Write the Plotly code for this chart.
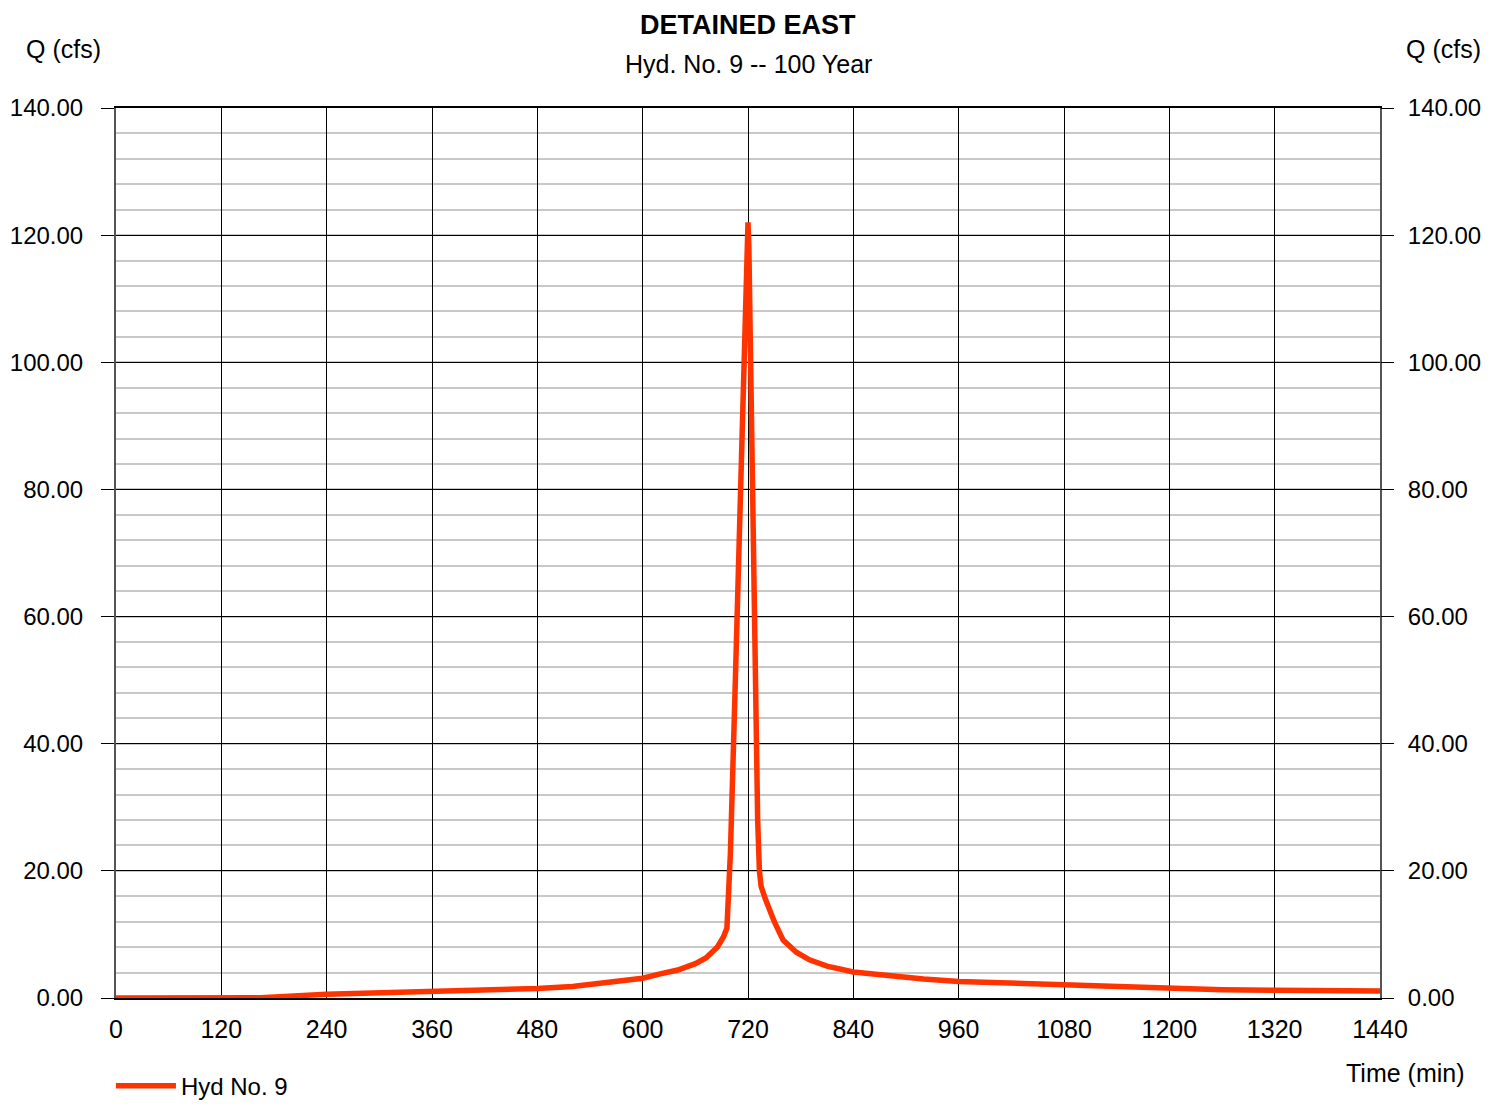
import plotly.graph_objects as go

# hydrograph
time_min = [0, 60, 120, 165, 240, 300, 360, 420, 480, 520, 545, 560, 580, 600,
            620, 640, 660, 672, 685, 692, 696, 699, 700, 705, 710, 714, 717, 719,
            720, 721, 724, 728, 731, 733, 735, 740, 750, 760, 775, 790, 810, 840,
            880, 920, 960, 1020, 1080, 1140, 1200, 1260, 1320, 1380, 1440]
flow_cfs = [0, 0, 0, 0.05, 0.6, 0.8, 1.0, 1.25, 1.5, 1.8, 2.2, 2.4, 2.6, 3.1,
            3.8, 4.4, 5.4, 6.3, 8.0, 9.6, 11.0, 18.0, 23.0, 47.0, 72.0, 92.0, 107.0, 118.0,
            122.0, 118.0, 88.0, 50.0, 28.0, 20.0, 17.5, 15.5, 12.0, 9.1, 7.2, 6.0, 5.0, 4.1,
            3.5, 3.0, 2.6, 2.3, 2.0, 1.7, 1.45, 1.3, 1.2, 1.15, 1.1]

x_ticks = list(range(0, 1441, 120))
y_ticks = list(range(0, 141, 20))

FONT = "Liberation Sans, Arial, sans-serif"

fig = go.Figure()
fig.add_trace(go.Scatter(x=time_min, y=flow_cfs, mode="lines", name="Hyd No. 9",
                         line=dict(color="#ff3300", width=5.5)))
# same series on the right axis, invisible, so the right-hand labels get drawn
fig.add_trace(go.Scatter(x=time_min, y=flow_cfs, mode="lines", yaxis="y2",
                         showlegend=False, hoverinfo="skip", opacity=0,
                         line=dict(color="#ff3300", width=0.1)))

# page body has an 8px margin: keep the figure small enough to avoid scrollbars
fig.update_layout(
    width=1483, height=1094,
    margin=dict(l=108, r=111, t=100, b=104, autoexpand=False),
    plot_bgcolor="white", paper_bgcolor="white",
    font=dict(family=FONT, size=24, color="black"),
    showlegend=True,
    legend=dict(x=-0.004, y=-0.099, xanchor="left", yanchor="middle",
                font=dict(size=24), itemwidth=60, bgcolor="rgba(0,0,0,0)"),
    xaxis=dict(range=[0, 1440], tickvals=x_ticks, showgrid=True, gridcolor="black",
               gridwidth=1, showline=True, linecolor="black", linewidth=1.5, mirror=True,
               zeroline=False, ticks="", ticklabelstandoff=8, automargin=False,
               tickfont=dict(size=25)),
    yaxis=dict(range=[0, 140], tickvals=y_ticks, tickformat=".2f", showgrid=True,
               gridcolor="black", gridwidth=1, showline=True, linecolor="#555",
               linewidth=2, mirror=True, zeroline=False, ticks="outside", ticklen=13,
               tickcolor="black", ticklabelstandoff=13, automargin=False,
               minor=dict(dtick=4, showgrid=True, gridcolor="#c8c8c8", gridwidth=2)),
    yaxis2=dict(range=[0, 140], tickvals=y_ticks, tickformat=".2f", overlaying="y",
                side="right", showgrid=False, zeroline=False, ticks="outside",
                ticklen=13, tickcolor="black", ticklabelstandoff=9, showline=False,
                automargin=False),
)

ann = dict(xref="paper", yref="paper", showarrow=False, xanchor="center", yanchor="middle")
fig.add_annotation(text="<b>DETAINED EAST</b>", x=0.5, y=1.0933, font=dict(size=27), **ann)
fig.add_annotation(text="Hyd. No. 9 -- 100 Year", x=0.5, y=1.0494, font=dict(size=25), **ann)
fig.add_annotation(text="Q (cfs)", x=-0.0419, y=1.0663, font=dict(size=25), **ann)
fig.add_annotation(text="Q (cfs)", x=1.0505, y=1.0663, font=dict(size=25), **ann)
fig.add_annotation(text="Time (min)", x=1.0198, y=-0.0843, font=dict(size=25), **ann)

fig.write_html("out.html")
